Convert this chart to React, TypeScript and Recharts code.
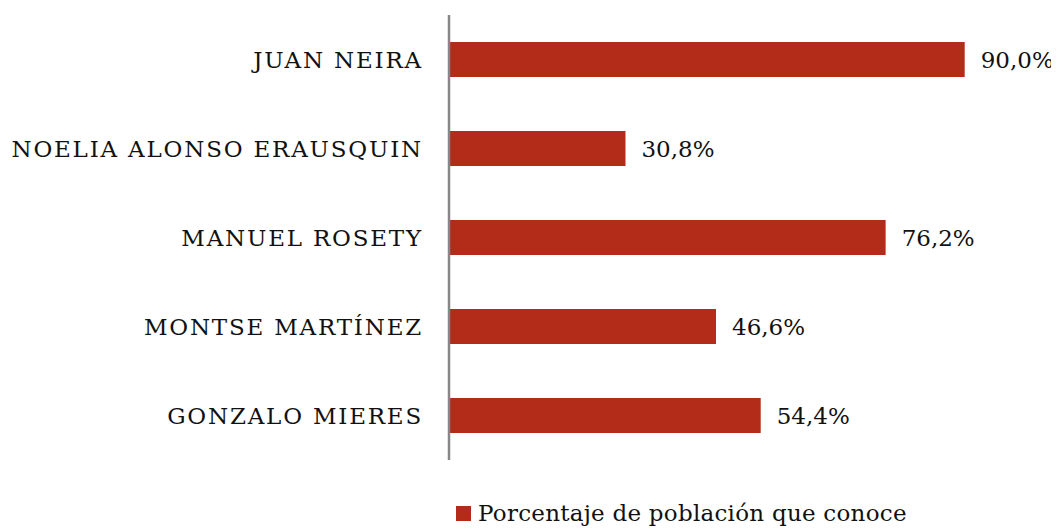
import React from "react";
import { BarChart, Bar, XAxis, YAxis, LabelList } from "recharts";

const categories = [
  "JUAN NEIRA",
  "NOELIA ALONSO ERAUSQUIN",
  "MANUEL ROSETY",
  "MONTSE MARTÍNEZ",
  "GONZALO MIERES",
];
const values = [90.0, 30.8, 76.2, 46.6, 54.4];
const seriesName = "Porcentaje de población que conoce";

const data = categories.map((name, i) => ({ name, value: values[i] }));

const FONT = "'DejaVu Serif', serif";
const RED = "#B22C19";

const fmt = (v: any) => Number(v).toFixed(1).replace(".", ",") + "%";

export default function App() {
  return (
    <div style={{ position: "relative", width: 1051, height: 521, fontFamily: FONT }}>
      <BarChart
        width={1051}
        height={521}
        data={data}
        layout="vertical"
        margin={{ top: 7, right: 37, left: 0, bottom: 69 }}
      >
        <XAxis type="number" domain={[0, 100]} hide />
        <YAxis
          type="category"
          dataKey="name"
          width={441}
          tickLine={false}
          axisLine={{ stroke: "#878787", strokeWidth: 2.5 }}
          tickMargin={20}
          tick={{ fill: "#111", fontSize: 23, fontFamily: FONT, letterSpacing: 1.8 } as any}
        />
        <Bar dataKey="value" fill={RED} barSize={35} isAnimationActive={false}>
          <LabelList
            dataKey="value"
            position="right"
            offset={16}
            formatter={fmt}
            style={{ fill: "#111", fontSize: 23, fontFamily: FONT }}
          />
        </Bar>
      </BarChart>
      <div
        style={{
          position: "absolute",
          left: 448,
          top: 492,
          display: "flex",
          alignItems: "center",
          fontSize: 23,
          letterSpacing: 0.25,
          color: "#111",
          whiteSpace: "nowrap",
        }}
      >
        <span style={{ display: "inline-block", width: 15, height: 15, background: RED, marginRight: 7 }} />
        <span>{seriesName}</span>
      </div>
    </div>
  );
}
